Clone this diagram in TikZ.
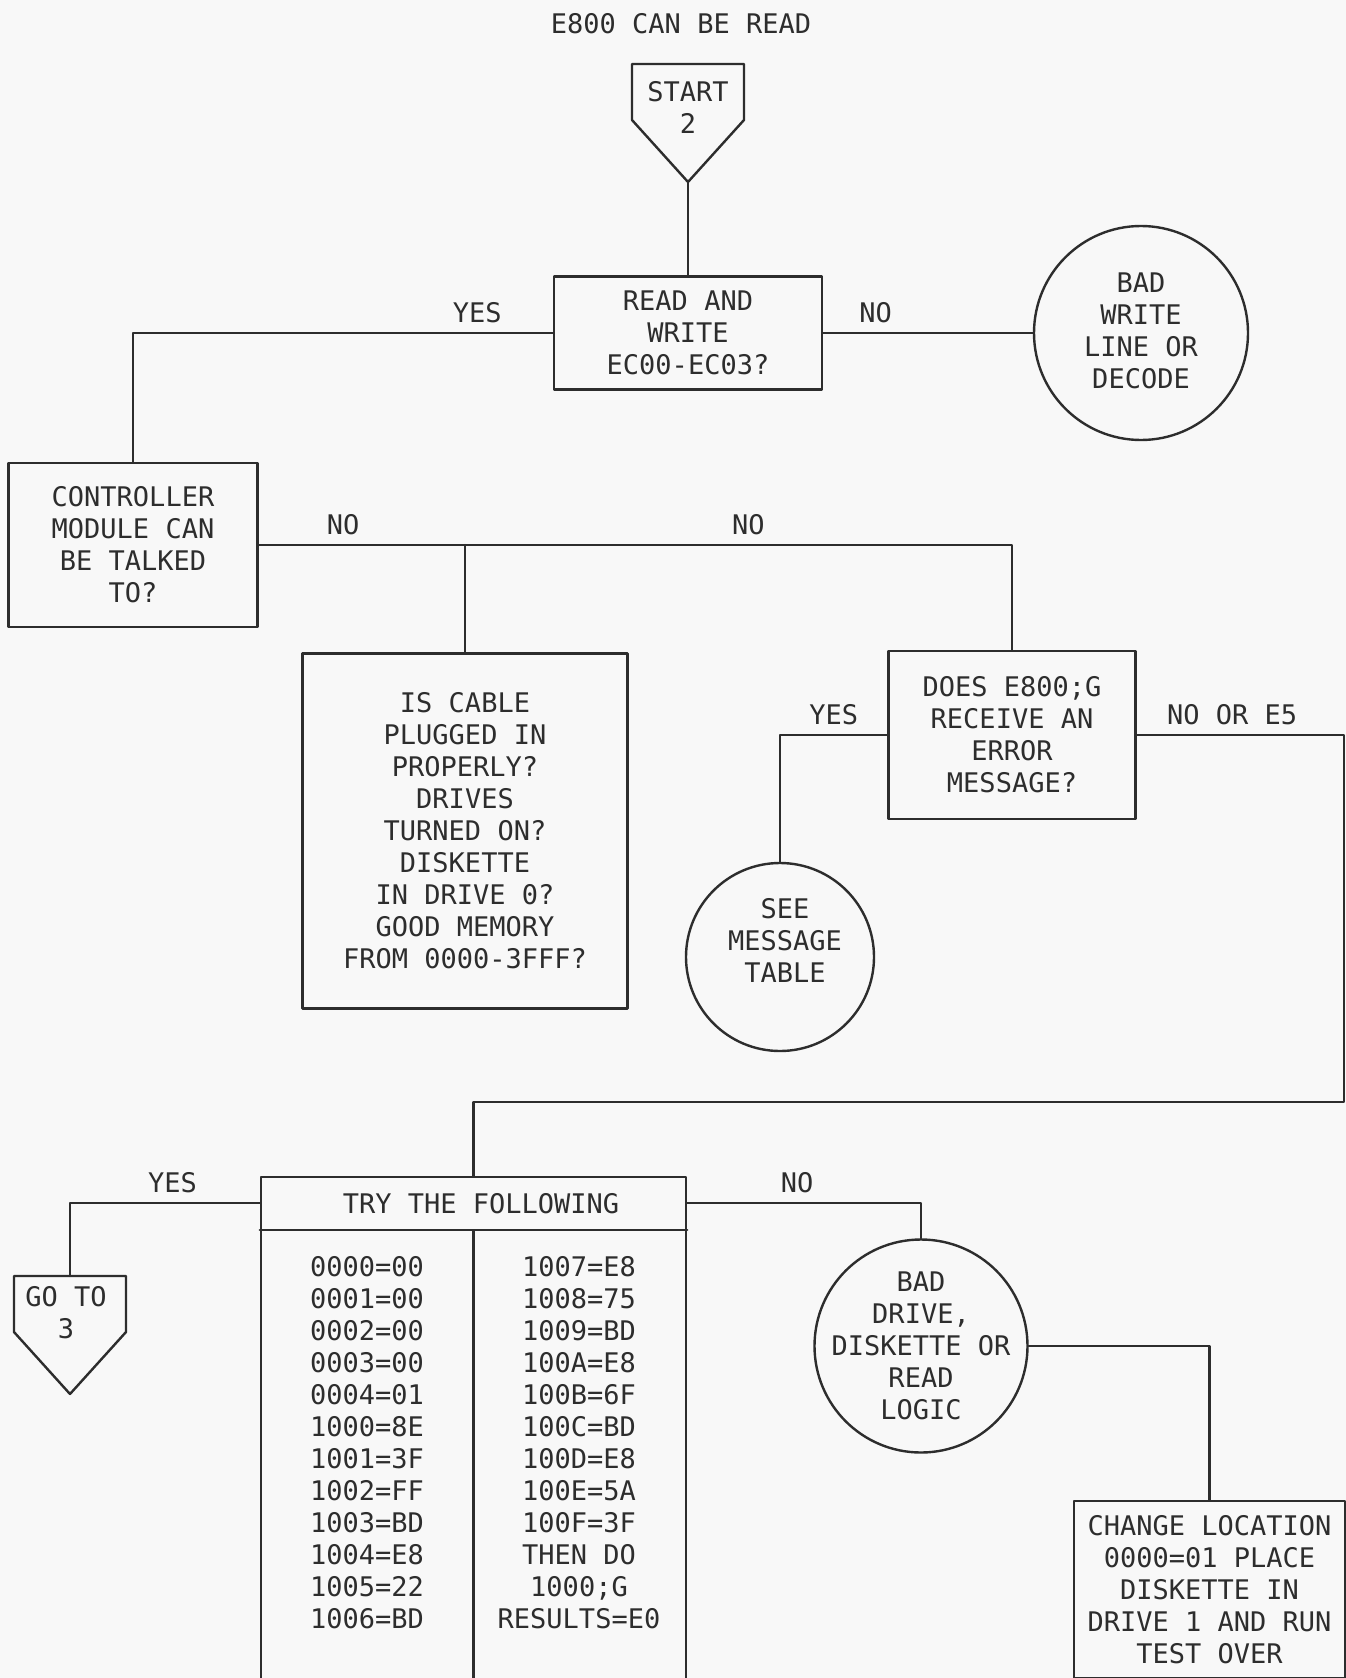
\documentclass[tikz,border=0pt]{standalone}
\usepackage{fontspec}
\setmainfont{DejaVu Sans Mono}
\usetikzlibrary{positioning}
\definecolor{paper}{RGB}{248,248,248}
\definecolor{ink}{RGB}{45,45,45}
\begin{document}
\begin{tikzpicture}[x=1pt,y=-1pt,line join=round,line cap=round,line width=2.4pt,color=ink]
	\tikzset{every node/.style={font=\fontsize{27}{32}\selectfont,inner sep=0pt},
		box/.style={draw,rectangle,align=center},
		endcircle/.style={draw,circle},
		lbl/.style={above=9pt,text height=20pt,text depth=0pt},
		entry/.style={text height=20pt,text depth=0pt},
		offpage/.pic={\draw (-56,0)--(56,0)--(56,56)--(0,118)--(-56,56)--cycle;
			\coordinate (-top) at (0,0);
			\coordinate (-tip) at (0,118);}}
	\path[use as bounding box,fill=paper] (0,0) rectangle (1346,1678);
	\clip (0,0) rectangle (1346,1678);
	% top
	\node (title) at (681,24) {E800 CAN BE READ};
	\pic (start) at (688,64) {offpage};
	\node[align=center] (starttxt) at (688,107) {START\\2};
	\node[box,minimum width=268,minimum height=113] (rw) at (688,333) {READ AND\\WRITE\\EC00-EC03?};
	\node[endcircle,minimum size=214] (badwl) at (1141,333) {};
	\node[align=center] (badwltxt) at (1141,331) {BAD\\WRITE\\LINE OR\\DECODE};
	% middle
	\node[box,minimum width=249,minimum height=164] (ctrl) at (133,545) {CONTROLLER\\MODULE CAN\\BE TALKED\\TO?};
	\node[box,minimum width=325,minimum height=355] (cable) at (465,831) {IS CABLE\\PLUGGED IN\\PROPERLY?\\DRIVES\\TURNED ON?\\DISKETTE\\IN DRIVE 0?\\GOOD MEMORY\\FROM 0000-3FFF?};
	\node[box,minimum width=247,minimum height=168] (does) at (1012,735) {DOES E800;G\\RECEIVE AN\\ERROR\\MESSAGE?};
	\node[endcircle,minimum size=188] (see) at (780,957) {};
	\node[align=center] (seetxt) at (785,940) {SEE\\MESSAGE\\TABLE};
	% bottom
	\node[draw,minimum width=425,minimum height=523] (try) at (473.5,1438.5) {};
	\node[minimum width=425,minimum height=52] (head) at (473.5,1203) {};
	\node (headtxt) at (481,1204) {TRY THE FOLLOWING};
	\draw (head.south west)--(head.south east);
	\draw (head.south)--(try.south);
	\foreach \val [count=\i] in {0000=00,0001=00,0002=00,0003=00,0004=01,1000=8E,1001=3F,1002=FF,1003=BD,1004=E8,1005=22,1006=BD}
	\node[entry] (left\i) at (367,1234+32*\i) {\val};
	\foreach \val [count=\i] in {1007=E8,1008=75,1009=BD,100A=E8,100B=6F,100C=BD,100D=E8,100E=5A,100F=3F,THEN DO,1000;G,RESULTS=E0}
	\node[entry] (right\i) at (579,1234+32*\i) {\val};
	\pic (goto) at (70,1276) {offpage};
	\node[align=center] (gototxt) at (66,1313) {GO TO\\3};
	\node[endcircle,minimum size=213] (dr) at (921,1346) {};
	\node[align=center] (drtxt) at (dr) {BAD\\DRIVE,\\DISKETTE OR\\READ\\LOGIC};
	\node[box,minimum width=271,minimum height=177] (chg) at (1209.5,1589.5) {CHANGE LOCATION\\0000=01 PLACE\\DISKETTE IN\\DRIVE 1 AND RUN\\TEST OVER};
	% connectors
	\coordinate (turn) at (1344,1102);
	\draw (start-tip)--(rw.north);
	\draw (rw.west) -| node[lbl,pos=.09]{YES} (ctrl.north);
	\draw (rw.east) -- node[lbl,pos=.25]{NO} (badwl.west);
	\draw (ctrl.east) -| node[lbl,pos=.056]{NO} node[lbl,pos=.325]{NO} (does.north);
	\draw (ctrl.east -| cable.north)--(cable.north);
	\draw (does.west) -| node[lbl,pos=.25]{YES} (see.north);
	\draw (does.east) -| node[lbl,pos=.23]{NO OR E5} (turn) -| (try.north);
	\draw (head.west) -| node[lbl,pos=.23]{YES} (goto-top);
	\draw (head.east) -| node[lbl,pos=.235]{NO} (dr.north);
	\draw (dr.east) -| (chg.north);
\end{tikzpicture}
\end{document}
